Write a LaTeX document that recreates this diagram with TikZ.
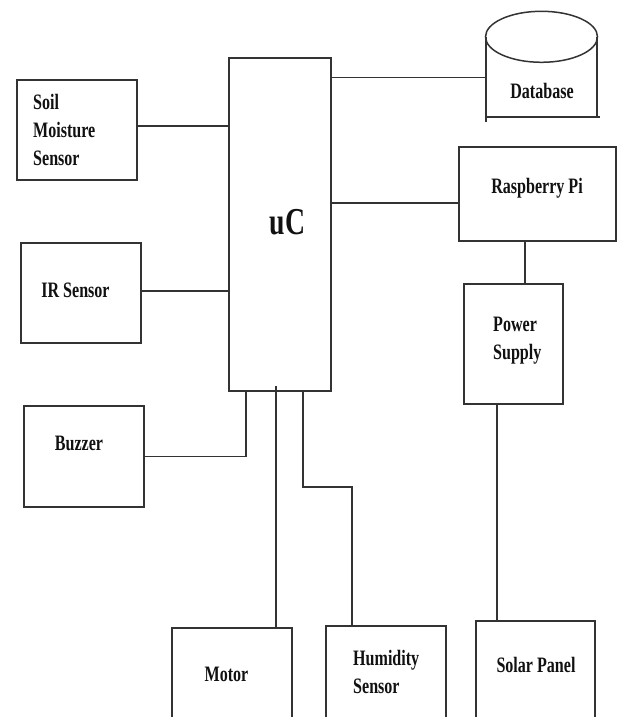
\documentclass[tikz,border=0pt]{standalone}
\usepackage{fontspec}
\setmainfont{Liberation Serif}[FakeStretch=0.73]
\usepackage{xcolor}
\usetikzlibrary{positioning,calc}

\definecolor{linegray}{HTML}{333333}
\definecolor{txtdark}{HTML}{111111}

\begin{document}
\begin{tikzpicture}[x=1pt, y=-1pt,
		blk/.style={draw=linegray, line width=1.5pt, minimum width=120pt, minimum height=100pt, inner sep=0pt},
		lbl/.style={font=\fontsize{22}{28}\selectfont\bfseries, text=txtdark, align=left, inner sep=0pt},
		wire/.style={draw=linegray, line width=1.5pt}]

			\useasboundingbox (0,0) rectangle (619,717);
			\clip (0,0) rectangle (619,717);

			% blocks
			\node[blk] (soil) at (77,130) {};
			\node[blk] (ir) at (81,293) {};
			\node[blk, minimum height=101pt] (buzzer) at (84,456.5) {};
			\node[blk, minimum width=102pt, minimum height=333pt] (uc) at (280,224.5) {};
			\node[blk, minimum width=157pt, minimum height=94pt] (rpi) at (537.5,194) {};
			\node[blk, minimum width=99pt, minimum height=120pt] (power) at (513.5,344) {};
			\node[blk, minimum height=130pt] (motor) at (232,693) {};
			\node[blk, minimum height=130pt] (humid) at (386,691) {};
			\node[blk, minimum width=119pt, minimum height=130pt] (solar) at (535.5,686) {};

			% database cylinder
			\node[minimum width=111pt, minimum height=80pt, inner sep=0pt] (db) at (541.5,77) {};
				\draw[wire] (db.north) ellipse [x radius=56pt, y radius=25.5pt];
				\draw[wire] (db.north west) -- ([yshift=-5pt]db.south west);
				\draw[wire] (db.north east) -- (db.south east);
				\draw[wire] (db.south west) -- ([xshift=3pt]db.south east);

			% labels
			\node[lbl, anchor=west] (soil-t) at (33,130) {Soil\\Moisture\\Sensor};
			\node[lbl] (ir-t) at (75.5,290) {IR Sensor};
			\node[lbl] (buzzer-t) at (79,443) {Buzzer};
			\node[lbl, font=\fontsize{38}{40}\selectfont\bfseries] (uc-t) at (287.5,222) {uC};
			\node[lbl] (db-t) at (542,91) {Database};
			\node[lbl] (rpi-t) at (537,188) {Raspberry Pi};
			\node[lbl, anchor=west] (power-t) at (493,341) {Power\\Supply};
			\node[lbl] (motor-t) at (226.5,674) {Motor};
			\node[lbl, anchor=west] (humid-t) at (353,672) {Humidity\\Sensor};
			\node[lbl] (solar-t) at (536,665) {Solar Panel};

			% wires
			\draw[wire] ([yshift=4pt]soil.east) -- ([yshift=4pt]soil.east -| uc.west);
			\draw[wire] ([yshift=2pt]ir.east) -- ([yshift=2pt]ir.east -| uc.west);
			\draw[wire] (buzzer.east) -| ([xshift=-34pt]uc.south);
			\draw[wire] ([xshift=-4pt,yshift=6pt]uc.south) -- ([xshift=-4pt]uc.south |- motor.north);
			\coordinate (hbend) at (352,487);
			\draw[wire] ([xshift=23pt]uc.south) |- (hbend) -- (hbend |- humid.north);
			\draw[wire] ([yshift=-20pt]uc.north east) -- ([yshift=-20pt]uc.north east -| db.west);
			\draw[wire] ([yshift=-9pt]rpi.west) -- ([yshift=-9pt]rpi.west -| uc.east);
			\draw[wire] ([xshift=-12.5pt]rpi.south) -- ([xshift=-12.5pt]rpi.south |- power.north);
			\draw[wire] ([xshift=-16.5pt]power.south) -- ([xshift=-16.5pt]power.south |- solar.north);

\end{tikzpicture}
\end{document}
